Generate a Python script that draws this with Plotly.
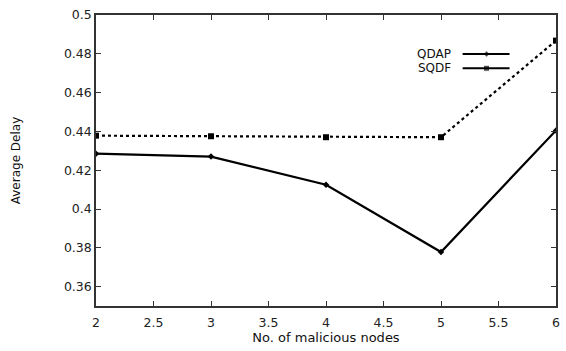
import plotly.graph_objects as go

x_vals = [2, 3, 4, 5, 6]
qdap = [0.4285, 0.427, 0.4125, 0.3778, 0.4405]
sqdf = [0.4378, 0.4375, 0.437, 0.437, 0.4868]
x_ticks = [2, 2.5, 3, 3.5, 4, 4.5, 5, 5.5, 6]
y_ticks = [0.36, 0.38, 0.4, 0.42, 0.44, 0.46, 0.48, 0.5]

font_family = "DejaVu Sans, sans-serif"

fig = go.Figure()
fig.add_trace(go.Scatter(
    x=x_vals, y=qdap, mode="lines+markers", name="QDAP",
    line=dict(color="black", width=2.2),
    marker=dict(symbol="diamond", size=5, color="black"),
))
fig.add_trace(go.Scatter(
    x=x_vals, y=sqdf, mode="lines+markers", name="SQDF",
    line=dict(color="black", width=2.2, dash="dot"),
    marker=dict(symbol="square", size=6, color="black"),
))

axis_common = dict(
    showgrid=False, zeroline=False, showline=True, mirror="ticks",
    linecolor="#333333", linewidth=1.5, ticks="inside", ticklen=5,
    tickcolor="#333333", tickwidth=1.2,
    tickfont=dict(family=font_family, size=12.5, color="#222222"),
)

fig.update_xaxes(range=[2, 6], tickvals=x_ticks,
                 ticktext=[("%g" % v) for v in x_ticks],
                 ticklabelstandoff=4,
                 title=dict(text="No. of malicious nodes", standoff=1,
                            font=dict(family=font_family, size=13, color="#111111")),
                 **axis_common)
fig.update_yaxes(range=[0.35, 0.5], tickvals=y_ticks,
                 ticktext=[("%g" % v) for v in y_ticks],
                 title=dict(text="Average Delay", standoff=41,
                            font=dict(family=font_family, size=12, color="#111111")),
                 **axis_common)

# manual legend (text to the left of the sample line, gnuplot style)
legend_items = [("QDAP", "diamond", 5, 0.866), ("SQDF", "square", 6, 0.817)]
for name, sym, sz, yp in legend_items:
    fig.add_annotation(xref="paper", yref="paper", x=0.776, y=yp, text=name,
                       showarrow=False, xanchor="right", yanchor="middle",
                       font=dict(family=font_family, size=12, color="#111111"))
    fig.add_shape(type="line", xref="paper", yref="paper",
                  x0=0.797, x1=0.899, y0=yp, y1=yp,
                  line=dict(color="black", width=2.2))

# legend sample markers via a hidden overlay axis in paper-like coordinates
fig.add_trace(go.Scatter(
    x=[0.849, 0.849], y=[legend_items[0][3], legend_items[1][3]],
    xaxis="x2", yaxis="y2", mode="markers", showlegend=False, hoverinfo="skip",
    marker=dict(symbol=["diamond", "square"], size=[5, 6], color="black"),
))
fig.update_layout(
    xaxis2=dict(overlaying="x", range=[0, 1], visible=False),
    yaxis2=dict(overlaying="y", range=[0, 1], visible=False),
)

fig.update_layout(
    width=566, height=351,
    margin=dict(l=96, r=6, t=15, b=45),
    paper_bgcolor="white", plot_bgcolor="white",
    showlegend=False,
)

fig.write_html("out.html")
